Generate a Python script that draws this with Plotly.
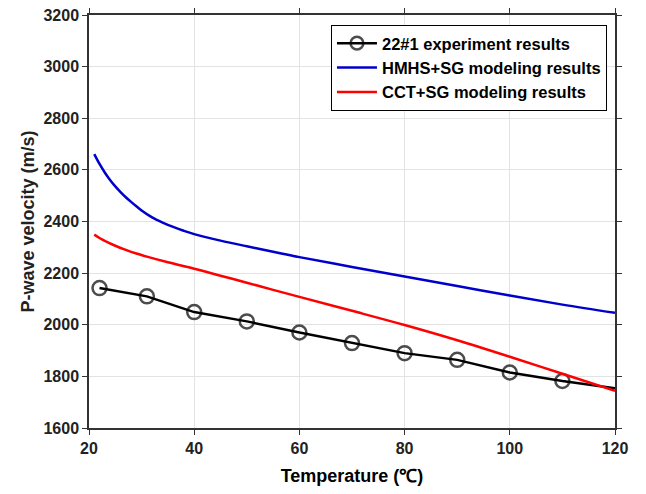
import plotly.graph_objects as go

# Experiment data (22#1)
exp_temp = [22, 31, 40, 50, 60, 70, 80, 90, 100, 110, 120]
exp_vel = [2142, 2110, 2049, 2013, 1970, 1929, 1890, 1864, 1815, 1782, 1754]
exp_marker_shown = [1, 1, 1, 1, 1, 1, 1, 1, 1, 1, 0]

# HMHS+SG modeling results
hmhs_temp = [21, 22, 23, 24, 25, 26, 27, 28, 29, 30, 32, 34, 36, 38, 40, 45, 50, 55, 60, 70, 80, 90, 100, 110, 120]
hmhs_vel = [2661, 2623, 2590, 2561, 2536, 2514, 2494, 2476, 2459, 2443, 2416, 2396, 2379, 2364, 2351, 2326, 2304, 2283, 2262, 2224, 2187, 2150, 2113, 2078, 2046]

# CCT+SG modeling results
cct_temp = [21, 22, 23, 25, 27, 29, 31, 35, 40, 45, 50, 55, 60, 70, 80, 90, 100, 110, 120]
cct_vel = [2349, 2336, 2325, 2306, 2290, 2276, 2264, 2242, 2217, 2190, 2163, 2135, 2108, 2054, 1999, 1940, 1876, 1810, 1744]

fig = go.Figure()

fig.add_trace(go.Scatter(
    x=exp_temp, y=exp_vel, mode="lines+markers",
    name="22#1 experiment results",
    line=dict(color="black", width=2.5),
    marker=dict(symbol="circle-open", size=[14 * s for s in exp_marker_shown],
                color="black", line=dict(width=2.5, color="black")),
))
fig.add_trace(go.Scatter(
    x=hmhs_temp, y=hmhs_vel, mode="lines", line_shape="spline",
    name="HMHS+SG modeling results",
    line=dict(color="#0000cc", width=2.5),
))
fig.add_trace(go.Scatter(
    x=cct_temp, y=cct_vel, mode="lines", line_shape="spline",
    name="CCT+SG modeling results",
    line=dict(color="#ff0000", width=2.5),
))

axis_common = dict(
    showgrid=True, gridcolor="#e3e3e3", gridwidth=1,
    showline=True, linecolor="#333333", linewidth=1.5,
    mirror="ticks", ticks="outside", ticklen=5, tickcolor="#333333",
    tickfont=dict(family="Liberation Sans", size=16, color="#222222", weight="bold"),
    zeroline=False, automargin=False, ticklabeloverflow="allow",
)

fig.update_xaxes(range=[20, 120], tickvals=[20, 40, 60, 80, 100, 120],
                 title=dict(text="Temperature (℃)", standoff=14,
                            font=dict(family="Liberation Sans", size=18, color="black", weight="bold")),
                 **axis_common)
fig.update_yaxes(range=[1600, 3200], tickvals=list(range(1600, 3201, 200)),
                 title=dict(text="P-wave velocity (m/s)", standoff=4,
                            font=dict(family="Liberation Sans", size=18, color="#222222", weight="bold")),
                 **axis_common)

# page body has an 8px default margin, so the figure is sized/offset to compensate
fig.update_layout(
    width=630, height=478,
    margin=dict(l=81, r=23, t=7, b=58),
    plot_bgcolor="white", paper_bgcolor="white",
    legend=dict(x=0.46, y=0.976, xanchor="left", yanchor="top",
                bgcolor="white", bordercolor="black", borderwidth=1,
                font=dict(family="Liberation Sans", size=16.5, color="black", weight="bold"),
                tracegroupgap=0, itemwidth=40),
    showlegend=True,
)

fig.write_html("out.html")
